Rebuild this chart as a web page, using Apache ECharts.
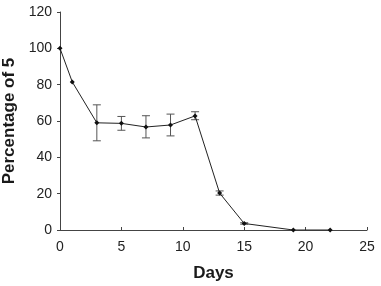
<!DOCTYPE html>
<html lang="en">
<head>
	<meta charset="UTF-8">
	<title>Percentage of 5</title>
	<script src="https://cdn.jsdelivr.net/npm/echarts@6/dist/echarts.min.js"></script>
	<style>
		html,body{margin:0;padding:0;width:100%;height:100%;background:#fff;}
		#chart{width:381px;height:286px;}
	</style>
</head>
<body>
	<div id="chart"></div>
<script>
	// days and mean percentage
	var days = [0, 1, 3, 5, 7, 9, 11, 13, 15, 19, 22];
	var values = [100, 81.5, 59, 58.7, 56.7, 57.8, 62.8, 20.3, 3.6, 0, 0];
	// error bar low / high
	var errLow = [100, 81.5, 49.1, 54.9, 50.7, 51.8, 60.7, 19.2, 3.2, 0, 0];
	var errHigh = [100, 81.5, 68.9, 62.5, 62.9, 63.8, 65.1, 21.5, 4.0, 0, 0];

	var lineData = [];
	var errData = [];
	for (var i = 0; i < days.length; i++) {
		lineData.push([days[i], values[i]]);
		if (errHigh[i] - errLow[i] > 0.5) {
			errData.push([days[i], errLow[i], errHigh[i]]);
		}
	}

	var myChart = echarts.init(document.getElementById('chart'));
	var font = 'Liberation Sans, Arial, sans-serif';
	var options = {
		animation: false,
		grid: {left: 60, right: 14, top: 12, bottom: 56, containLabel: false, outerBoundsMode: 'none'},
		xAxis: {
			type: 'value',
			min: 0, max: 25, interval: 5,
			name: 'Days',
			nameLocation: 'middle',
			nameGap: 35,
			nameTextStyle: {fontFamily: font, fontSize: 17, fontWeight: 'bold', color: '#1a1a1a'},
			axisLine: {lineStyle: {color: '#444', width: 1}},
			axisTick: {show: true, inside: true, length: 3, lineStyle: {color: '#444'}},
			axisLabel: {fontFamily: font, fontSize: 14, color: '#222', margin: 10},
			splitLine: {show: false}
		},
		yAxis: {
			type: 'value',
			min: 0, max: 120, interval: 20,
			name: 'Percentage of 5',
			nameLocation: 'middle',
			nameGap: 37,
			nameTextStyle: {fontFamily: font, fontSize: 17, fontWeight: 'bold', color: '#1a1a1a'},
			axisLine: {show: true, lineStyle: {color: '#444', width: 1}},
			axisTick: {show: true, length: 3, lineStyle: {color: '#444'}},
			axisLabel: {fontFamily: font, fontSize: 14, color: '#222', margin: 8},
			splitLine: {show: false}
		},
		series: [
			{
				type: 'custom',
				data: errData,
				z: 1,
				renderItem: function (params, api) {
					var x = api.value(0);
					var lo = api.coord([x, api.value(1)]);
					var hi = api.coord([x, api.value(2)]);
					var w = 4;
					var st = {stroke: '#555', lineWidth: 1};
					return {
						type: 'group',
						children: [
							{type: 'line', shape: {x1: lo[0], y1: lo[1], x2: hi[0], y2: hi[1]}, style: st},
							{type: 'line', shape: {x1: lo[0] - w, y1: lo[1], x2: lo[0] + w, y2: lo[1]}, style: st},
							{type: 'line', shape: {x1: hi[0] - w, y1: hi[1], x2: hi[0] + w, y2: hi[1]}, style: st}
						]
					};
				}
			},
			{
				type: 'line',
				data: lineData,
				z: 2,
				symbol: 'diamond',
				symbolSize: 5,
				itemStyle: {color: '#111'},
				lineStyle: {color: '#222', width: 1}
			}
		]
	};
	myChart.setOption(options);
</script>
</body>
</html>
